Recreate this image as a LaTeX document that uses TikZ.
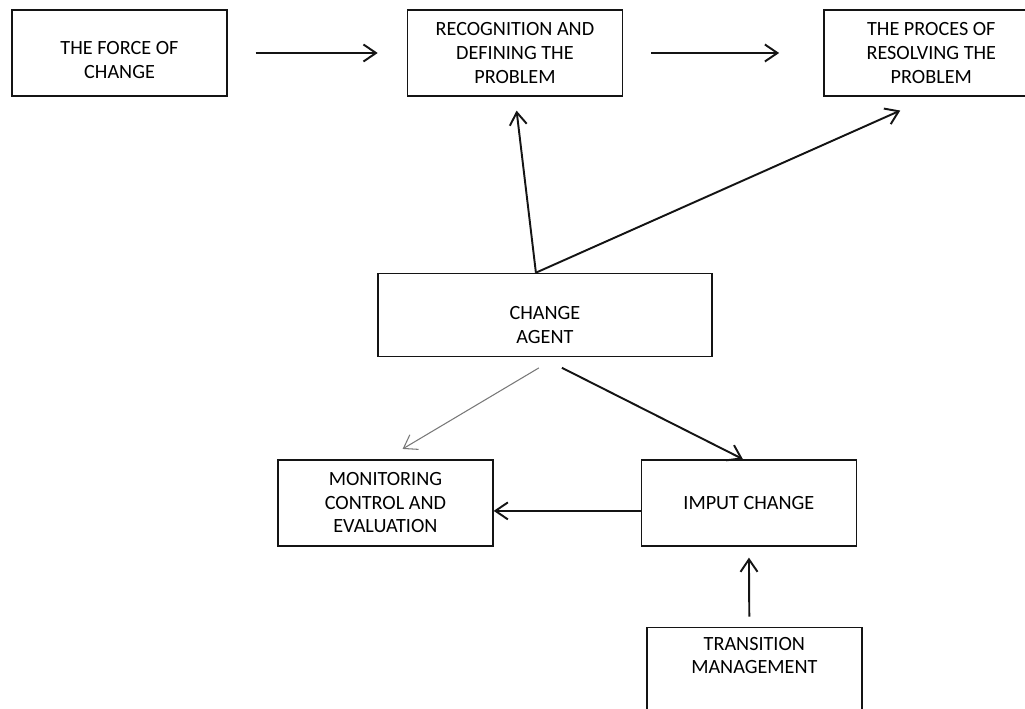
\documentclass[tikz,border=0pt]{standalone}
\usepackage{fontspec}
\setmainfont{Carlito}
\usepackage{tikz}
\usetikzlibrary{arrows.meta,positioning}
\definecolor{boxblack}{RGB}{20, 20, 20}
\definecolor{thingray}{RGB}{120, 120, 120}
\tikzset{
 chbox/.style={
 rectangle,
 draw=boxblack,
 line width=0.85pt,
 align=center,
 minimum width=4.3cm,
 minimum height=1.72cm,
 inner sep=0pt,
 font=\fontsize{11.5}{13.4}\selectfont
 },
 chtext/.style={
 align=center,
 inner sep=0pt,
 font=\fontsize{11.5}{13.4}\selectfont
 },
 chflow/.style={-{Straight Barb[length=2.5mm, width=3.4mm]}, line width=1.1pt, draw=boxblack},
 chthin/.style={-{Straight Barb[length=2.5mm, width=3.4mm]}, line width=0.6pt, draw=thingray}
}
\begin{document}
\begin{tikzpicture}[x=0.02cm, y=-0.02cm]
 \useasboundingbox (0,0) rectangle (1025,709);
 \node[chbox] (force) at (119.5,53) {};
 \node[chtext] (forcetext) at ([yshift=-0.14cm]force.center) {THE FORCE OF\\CHANGE};
 \node[chbox, right=3.58cm of force] (recog) {RECOGNITION AND\\DEFINING THE\\PROBLEM};
 \node[chbox, right=4.0cm of recog] (resolve) {THE PROCES OF\\RESOLVING THE\\PROBLEM};
 \node[chbox, minimum width=6.68cm, minimum height=1.66cm, below=3.52cm of recog, xshift=0.6cm] (agent) {};
 \node[chtext] (agenttext) at ([yshift=-0.2cm]agent.center) {CHANGE\\AGENT};
 \node[chbox, below=2.04cm of agent, xshift=-3.19cm] (monitor) {MONITORING\\CONTROL AND\\EVALUATION};
 \node[chbox, right=2.94cm of monitor] (imput) {IMPUT CHANGE};
 \node[chbox, below=1.6cm of imput, xshift=0.11cm] (trans) {};
 \node[chtext, below=0.2cm of trans.north] (transtext) {TRANSITION\\MANAGEMENT};

 \coordinate (apex) at ([xshift=-0.18cm]agent.north);

 \draw[chflow, shorten <=0.56cm, shorten >=0.58cm] (force) -- (recog);
 \draw[chflow, shorten <=0.56cm, shorten >=0.88cm] (recog) -- (resolve);
 \draw[chflow, shorten >=0.28cm] (apex) -- (recog.south);
 \draw[chflow, shorten >=0.68cm] (apex) -- (resolve.south);
 \draw[chthin, shorten <=0.42cm, shorten >=0.4cm] ([xshift=0.24cm]agent.south) -- (monitor.north);
 \draw[chflow, shorten <=0.47cm] ([xshift=-0.08cm]agent.south) -- ([xshift=-0.12cm]imput.north);
 \draw[chflow] ([yshift=-0.16cm]imput.west) -- ([yshift=-0.16cm]monitor.east);
 \draw[chflow, shorten <=0.2cm, shorten >=0.22cm] ([xshift=-0.1cm]trans.north) -- (imput.south);
\end{tikzpicture}
\end{document}
